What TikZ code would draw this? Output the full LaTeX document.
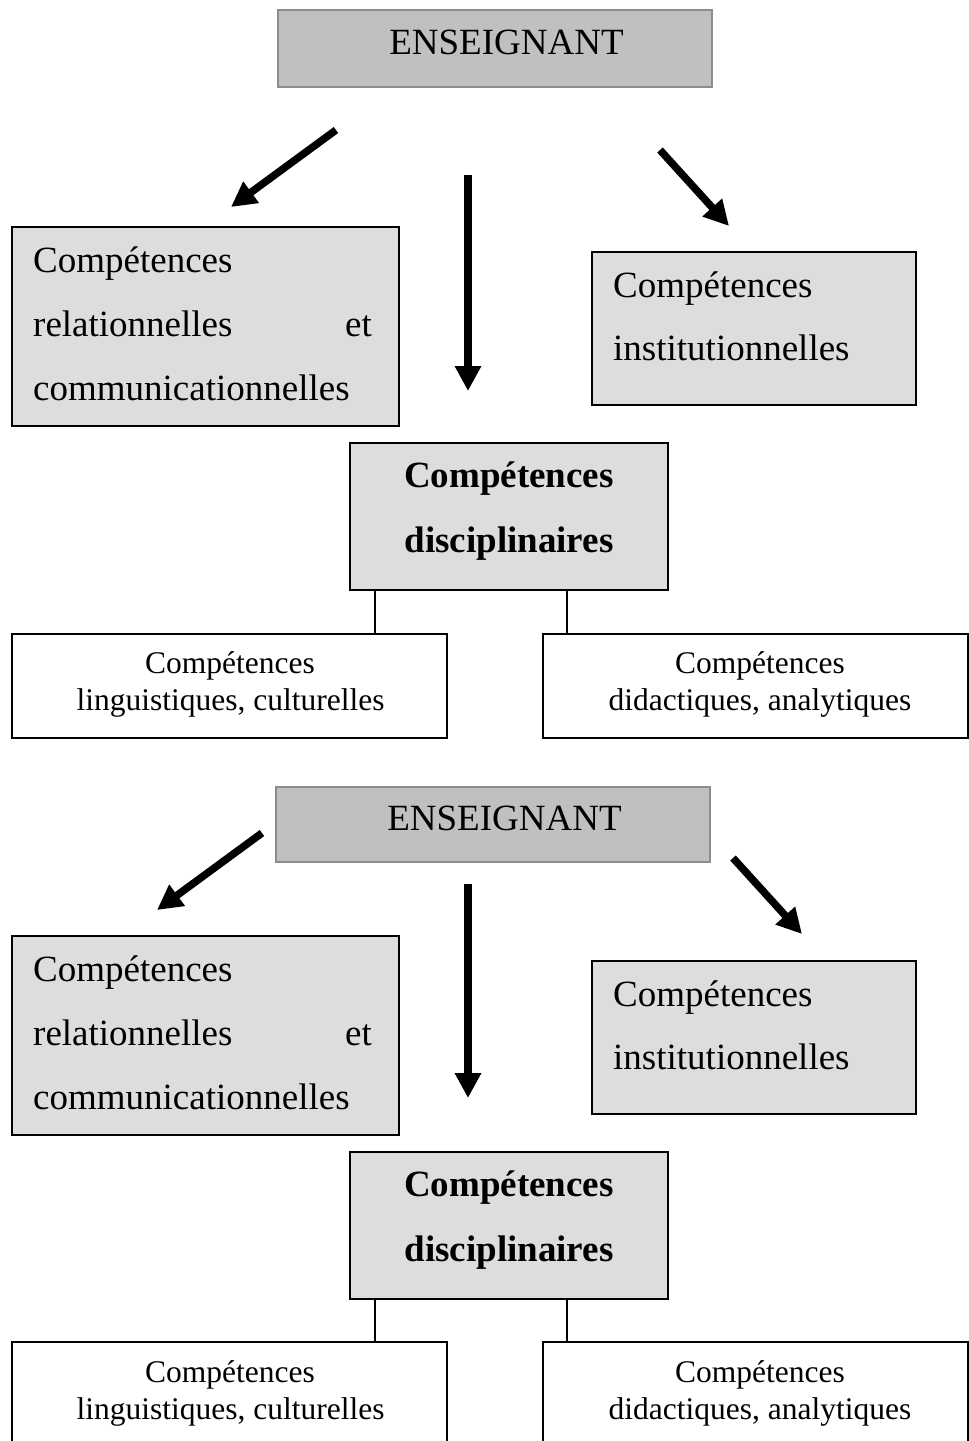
\documentclass[tikz,border=0pt]{standalone}
\usepackage{fontspec}
\setmainfont{Liberation Serif}
\usetikzlibrary{arrows.meta}
\definecolor{boxgray}{HTML}{DDDDDD}
\definecolor{topgray}{HTML}{C0C0C0}
\definecolor{topedge}{HTML}{8C8C8C}
\begin{document}
\begin{tikzpicture}[x=1pt,y=-1pt,
  topbox/.style={draw=topedge, line width=1.5pt, fill=topgray, inner sep=0pt, outer sep=0pt},
  graybox/.style={draw=black, line width=1.5pt, fill=boxgray, inner sep=0pt, outer sep=0pt},
  whitebox/.style={draw=black, line width=1.4pt, fill=white, inner sep=0pt, outer sep=0pt},
  bigtxt/.style={inner sep=0pt, font=\fontsize{37}{44}\selectfont},
  boldtxt/.style={inner sep=0pt, font=\fontsize{37}{44}\selectfont\bfseries},
  smalltxt/.style={inner sep=0pt, font=\fontsize{31.5}{38}\selectfont},
  bigarrow/.style={line width=7.5pt, -{Triangle[length=25pt,width=25pt]}},
  link/.style={line width=1.3pt}]
\useasboundingbox (0,0) rectangle (969,1441);
\clip (0,0) rectangle (969,1441);
\fill[white] (0,0) rectangle (969,1441);

% ---------- top half ----------
\node[topbox, minimum width=434pt, minimum height=77pt] (ens1) at (495,48.5) {};
\node[bigtxt, anchor=base] (ens1t) at (506.5,54) {ENSEIGNANT};

\node[graybox, minimum width=387pt, minimum height=199pt] (rel1) at (205.5,326.5) {};
\node[bigtxt, anchor=base west] (rel1a) at (33,272) {Compétences};
\node[bigtxt, anchor=base west] (rel1b) at (33,336) {relationnelles};
\node[bigtxt, anchor=base east] (rel1c) at (372,336) {et};
\node[bigtxt, anchor=base west] (rel1d) at (33,400) {communicationnelles};

\node[graybox, minimum width=324pt, minimum height=153pt] (inst1) at (754,328.5) {};
\node[bigtxt, anchor=base west] (inst1a) at (613,297) {Compétences};
\node[bigtxt, anchor=base west] (inst1b) at (613,360) {institutionnelles};

\node[graybox, minimum width=318pt, minimum height=147pt] (disc1) at (509,516.5) {};
\node[boldtxt, anchor=base] (disc1a) at (509,487) {Compétences};
\node[boldtxt, anchor=base] (disc1b) at (509,552) {disciplinaires};

\node[whitebox, minimum width=435pt, minimum height=104pt] (ling1) at (229.5,686) {};
\node[smalltxt, anchor=base] (ling1a) at (230,673) {Compétences};
\node[smalltxt, anchor=base] (ling1b) at (230.5,710) {linguistiques, culturelles};

\node[whitebox, minimum width=425pt, minimum height=104pt] (dida1) at (755.5,686) {};
\node[smalltxt, anchor=base] (dida1a) at (760,673) {Compétences};
\node[smalltxt, anchor=base] (dida1b) at (760,710) {didactiques, analytiques};

\draw[link] ([xshift=25pt]disc1.south west) -- ([xshift=25pt]disc1.south west |- ling1.north);
\draw[link] ([xshift=-101pt]disc1.south east) -- ([xshift=-101pt]disc1.south east |- dida1.north);

\coordinate (a1s) at (336,130);
\coordinate (a1e) at (231,207);
\coordinate (a2s) at (468,175);
\coordinate (a2e) at (468,391);
\coordinate (a3s) at (660,150);
\coordinate (a3e) at (729,226);
\draw[bigarrow] (a1s) -- (a1e);
\draw[bigarrow] (a2s) -- (a2e);
\draw[bigarrow] (a3s) -- (a3e);

% ---------- bottom half ----------
\node[topbox, minimum width=434pt, minimum height=75pt] (ens2) at (493,824.5) {};
\node[bigtxt, anchor=base] (ens2t) at (504.5,830) {ENSEIGNANT};

\node[graybox, minimum width=387pt, minimum height=199pt] (rel2) at (205.5,1035.5) {};
\node[bigtxt, anchor=base west] (rel2a) at (33,981) {Compétences};
\node[bigtxt, anchor=base west] (rel2b) at (33,1045) {relationnelles};
\node[bigtxt, anchor=base east] (rel2c) at (372,1045) {et};
\node[bigtxt, anchor=base west] (rel2d) at (33,1109) {communicationnelles};

\node[graybox, minimum width=324pt, minimum height=153pt] (inst2) at (754,1037.5) {};
\node[bigtxt, anchor=base west] (inst2a) at (613,1006) {Compétences};
\node[bigtxt, anchor=base west] (inst2b) at (613,1069) {institutionnelles};

\node[graybox, minimum width=318pt, minimum height=147pt] (disc2) at (509,1225.5) {};
\node[boldtxt, anchor=base] (disc2a) at (509,1196) {Compétences};
\node[boldtxt, anchor=base] (disc2b) at (509,1261) {disciplinaires};

\node[whitebox, minimum width=435pt, minimum height=104pt] (ling2) at (229.5,1394) {};
\node[smalltxt, anchor=base] (ling2a) at (230,1382) {Compétences};
\node[smalltxt, anchor=base] (ling2b) at (230.5,1419) {linguistiques, culturelles};

\node[whitebox, minimum width=425pt, minimum height=104pt] (dida2) at (755.5,1394) {};
\node[smalltxt, anchor=base] (dida2a) at (760,1382) {Compétences};
\node[smalltxt, anchor=base] (dida2b) at (760,1419) {didactiques, analytiques};

\draw[link] ([xshift=25pt]disc2.south west) -- ([xshift=25pt]disc2.south west |- ling2.north);
\draw[link] ([xshift=-101pt]disc2.south east) -- ([xshift=-101pt]disc2.south east |- dida2.north);

\coordinate (b1s) at (262,833);
\coordinate (b1e) at (157,910);
\coordinate (b2s) at (468,884);
\coordinate (b2e) at (468,1098);
\coordinate (b3s) at (733,858);
\coordinate (b3e) at (802,934);
\draw[bigarrow] (b1s) -- (b1e);
\draw[bigarrow] (b2s) -- (b2e);
\draw[bigarrow] (b3s) -- (b3e);
\end{tikzpicture}
\end{document}
